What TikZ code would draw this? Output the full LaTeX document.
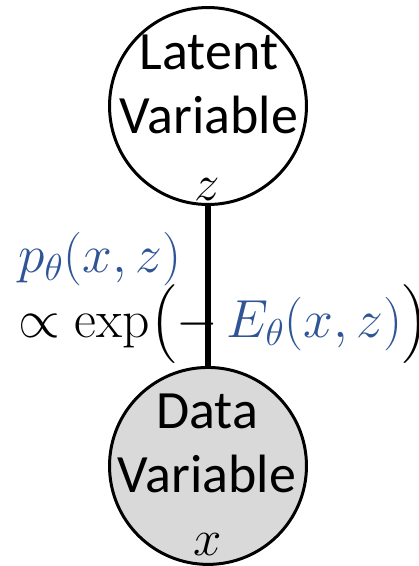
\documentclass[tikz,border=0pt]{standalone}
\usepackage{fix-cm}
\usepackage{amsmath}
\usepackage[no-math]{fontspec}
\setmainfont{Carlito}
\usetikzlibrary{positioning}
\definecolor{eqblue}{RGB}{47,85,151}
\definecolor{obsgray}{RGB}{217,217,217}

\begin{document}
\begin{tikzpicture}[x=0.02cm, y=-0.02cm, node distance=3.2cm,
  var/.style={circle,draw=black,line width=1.7pt,fill=white,minimum size=3.94cm,inner sep=0pt},
  lbl/.style={align=center,inner sep=0pt,font=\fontsize{30.7}{36.5}\selectfont},
  sym/.style={inner sep=0pt,anchor=base,font=\fontsize{29}{35}\selectfont},
  eq/.style={inner sep=0pt,anchor=base west,font=\fontsize{30.5}{37}\selectfont}]
  \useasboundingbox (0,0) rectangle (419,566);
  \node[var](latent) at (208,106){};
  \node[var,below=of latent,fill=obsgray](data){};
  \node[lbl] (latlbl) at (209,84.5) {Latent\\Variable};
  \node[lbl] (datlbl) at (207,443.5) {Data\\Variable};
  \node[sym] (zsym) at (207,200) {$z$};
  \node[sym] (xsym) at (208,555) {$x$};

  \draw[line width=3.4pt](latent)--(data);

  \node[eq] (joint) at (18,272) {\color{eqblue}$p_\theta(x,z)$};
  \node[eq] (energy) at (18,337) {$\propto \exp\bigl({-}\mkern3mu{\color{eqblue}E_\theta(x,z)}\bigr)$};
\end{tikzpicture}
\end{document}
